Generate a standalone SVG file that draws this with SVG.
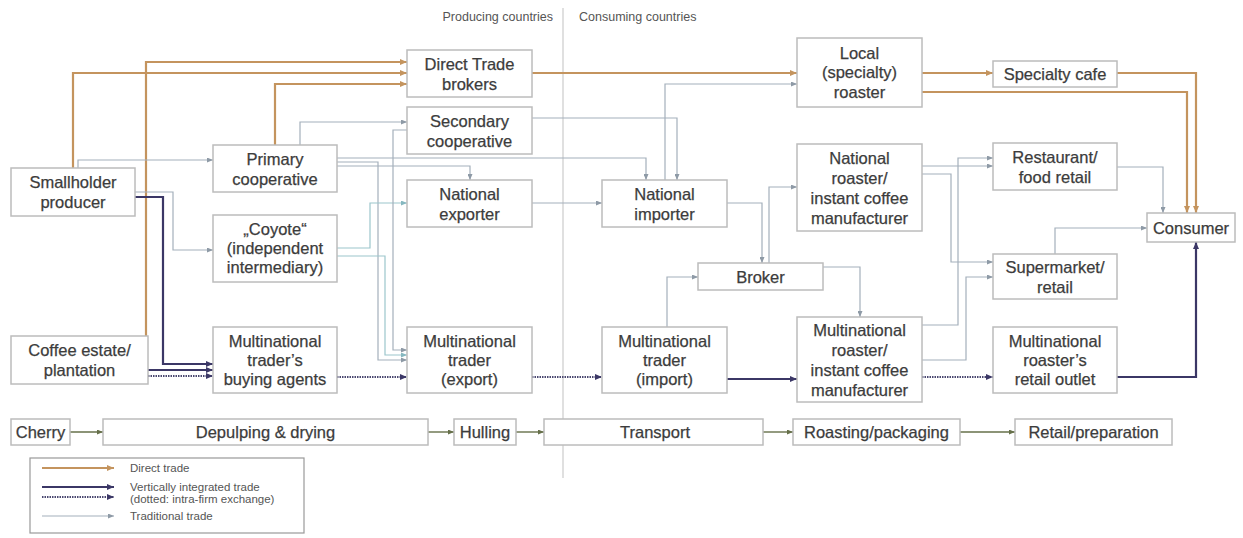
<svg xmlns="http://www.w3.org/2000/svg" width="1243" height="538" viewBox="0 0 1243 538">
<style>
.box{fill:#fff;stroke:#bcbcbc;stroke-width:1.5}
.t{font-family:"Liberation Sans",Arial,sans-serif;font-size:16.5px;fill:#3c3c3c;text-anchor:middle;stroke:#3c3c3c;stroke-width:0.25}
.hdr{font-family:"Liberation Sans",Arial,sans-serif;font-size:12.5px;fill:#555}
.lg{font-family:"Liberation Sans",Arial,sans-serif;font-size:11.5px;fill:#555}
.c{fill:none;stroke-linejoin:miter}
.dir{stroke:#c4945e;stroke-width:2.2}
.vi{stroke:#3b3766;stroke-width:2.2}
.vid{stroke:#4a4870;stroke-width:2;stroke-dasharray:1.5 1}
.tr{stroke:#a4b0bb;stroke-width:1.2}
.coy{stroke:#9cc6cc;stroke-width:1.2}
.pr{stroke:#66704a;stroke-width:1.4}
</style>
<defs>
<marker id="ad" markerUnits="userSpaceOnUse" markerWidth="7" markerHeight="6" refX="7" refY="3" orient="auto"><path d="M0,0L7,3L0,6z" fill="#c4945e"/></marker>
<marker id="av" markerUnits="userSpaceOnUse" markerWidth="7" markerHeight="6" refX="7" refY="3" orient="auto"><path d="M0,0L7,3L0,6z" fill="#3b3766"/></marker>
<marker id="at" markerUnits="userSpaceOnUse" markerWidth="6" markerHeight="5" refX="6" refY="2.5" orient="auto"><path d="M0,0L6,2.5L0,5z" fill="#8e9aa6"/></marker>
<marker id="ac" markerUnits="userSpaceOnUse" markerWidth="6" markerHeight="5" refX="6" refY="2.5" orient="auto"><path d="M0,0L6,2.5L0,5z" fill="#86b8c0"/></marker>
<marker id="ap" markerUnits="userSpaceOnUse" markerWidth="6" markerHeight="5" refX="6" refY="2.5" orient="auto"><path d="M0,0L6,2.5L0,5z" fill="#66704a"/></marker>
</defs>
<rect width="1243" height="538" fill="#fff"/>
<line x1="563" y1="8" x2="563" y2="478" stroke="#cccccc" stroke-width="1.2"/>
<text class="hdr" x="553" y="21" text-anchor="end">Producing countries</text>
<text class="hdr" x="579" y="21">Consuming countries</text>

<g id="connectors">
<path class="c dir" marker-end="url(#ad)" d="M73,168V73H407"/>
<path class="c dir" marker-end="url(#ad)" d="M146,336V62H407"/>
<path class="c dir" marker-end="url(#ad)" d="M275,145V84H407"/>
<path class="c dir" marker-end="url(#ad)" d="M532,73H797"/>
<path class="c dir" marker-end="url(#ad)" d="M922,73H993"/>
<path class="c dir" marker-end="url(#ad)" d="M1117,73H1196V213"/>
<path class="c dir" marker-end="url(#ad)" d="M922,92H1187V213"/>

<path class="c vi" marker-end="url(#av)" d="M135,197H163V364H213"/>
<path class="c vi" marker-end="url(#av)" d="M148,370H213"/>
<path class="c vid" marker-end="url(#av)" d="M148,376H213"/>
<path class="c vid" marker-end="url(#av)" d="M337,377H407"/>
<path class="c vid" marker-end="url(#av)" d="M532,377H602"/>
<path class="c vi" marker-end="url(#av)" d="M727,379H797"/>
<path class="c vid" marker-end="url(#av)" d="M922,377H993"/>
<path class="c vi" marker-end="url(#av)" d="M1117,377H1196V242"/>

<path class="c tr" marker-end="url(#at)" d="M78,168V160H213"/>
<path class="c tr" marker-end="url(#at)" d="M135,192H173V250H213"/>
<path class="c tr" marker-end="url(#at)" d="M300,145V122H407"/>
<path class="c tr" marker-end="url(#at)" d="M337,158H646V180"/>
<path class="c tr" marker-end="url(#at)" d="M337,166H470V180"/>
<path class="c tr" marker-end="url(#at)" d="M337,162H378V360H407"/>
<path class="c coy" marker-end="url(#ac)" d="M337,248H370V203H407"/>
<path class="c coy" marker-end="url(#ac)" d="M337,256H385V355H407"/>
<path class="c tr" marker-end="url(#at)" d="M407,130H393V350H407"/>
<path class="c tr" marker-end="url(#at)" d="M532,203H602"/>
<path class="c tr" marker-end="url(#at)" d="M532,118H677V180"/>
<path class="c tr" marker-end="url(#at)" d="M665,180V84H797"/>
<path class="c tr" marker-end="url(#at)" d="M727,203H762V263"/>
<path class="c tr" marker-end="url(#at)" d="M769,263V187H797"/>
<path class="c tr" marker-end="url(#at)" d="M667,327V277H698"/>
<path class="c tr" marker-end="url(#at)" d="M823,267H860V317"/>
<path class="c tr" marker-end="url(#at)" d="M922,166H993"/>
<path class="c tr" marker-end="url(#at)" d="M922,174H951V262H993"/>
<path class="c tr" marker-end="url(#at)" d="M922,325H958V158H993"/>
<path class="c tr" marker-end="url(#at)" d="M922,360H966V277H993"/>
<path class="c tr" marker-end="url(#at)" d="M1117,167H1163V213"/>
<path class="c tr" marker-end="url(#at)" d="M1055,254V228H1147"/>

<path class="c pr" marker-end="url(#ap)" d="M70,432H103"/>
<path class="c pr" marker-end="url(#ap)" d="M428,432H454"/>
<path class="c pr" marker-end="url(#ap)" d="M516,432H544"/>
<path class="c pr" marker-end="url(#ap)" d="M763,432H793"/>
<path class="c pr" marker-end="url(#ap)" d="M960,432H1015"/>
</g>

<g id="n-smallholder"><rect class="box" x="11" y="168" width="124" height="48"/><text class="t" x="73" y="188">Smallholder</text><text class="t" x="73" y="208">producer</text></g>
<g id="n-estate"><rect class="box" x="11" y="336" width="137" height="48"/><text class="t" x="79.5" y="356">Coffee estate/</text><text class="t" x="79.5" y="376">plantation</text></g>
<g id="n-primary"><rect class="box" x="213" y="145" width="124" height="47"/><text class="t" x="275" y="164.5">Primary</text><text class="t" x="275" y="184.5">cooperative</text></g>
<g id="n-coyote"><rect class="box" x="213" y="215" width="124" height="67"/><text class="t" x="275" y="235">„Coyote“</text><text class="t" x="275" y="254">(independent</text><text class="t" x="275" y="273">intermediary)</text></g>
<g id="n-buying"><rect class="box" x="213" y="327" width="124" height="66"/><text class="t" x="275" y="347">Multinational</text><text class="t" x="275" y="366">trader’s</text><text class="t" x="275" y="385">buying agents</text></g>
<g id="n-dtbrokers"><rect class="box" x="407" y="50" width="125" height="47"/><text class="t" x="469.5" y="69.5">Direct Trade</text><text class="t" x="469.5" y="89.5">brokers</text></g>
<g id="n-secondary"><rect class="box" x="407" y="107" width="125" height="47"/><text class="t" x="469.5" y="126.5">Secondary</text><text class="t" x="469.5" y="146.5">cooperative</text></g>
<g id="n-exporter"><rect class="box" x="407" y="180" width="125" height="47"/><text class="t" x="469.5" y="199.5">National</text><text class="t" x="469.5" y="219.5">exporter</text></g>
<g id="n-mntexport"><rect class="box" x="407" y="327" width="125" height="66"/><text class="t" x="469.5" y="347">Multinational</text><text class="t" x="469.5" y="366">trader</text><text class="t" x="469.5" y="385">(export)</text></g>
<g id="n-importer"><rect class="box" x="602" y="180" width="125" height="47"/><text class="t" x="664.5" y="199.5">National</text><text class="t" x="664.5" y="219.5">importer</text></g>
<g id="n-broker"><rect class="box" x="698" y="263" width="125" height="27"/><text class="t" x="760.5" y="282.5">Broker</text></g>
<g id="n-mntimport"><rect class="box" x="602" y="327" width="125" height="66"/><text class="t" x="664.5" y="347">Multinational</text><text class="t" x="664.5" y="366">trader</text><text class="t" x="664.5" y="385">(import)</text></g>
<g id="n-local"><rect class="box" x="797" y="38" width="125" height="69"/><text class="t" x="859.5" y="58.5">Local</text><text class="t" x="859.5" y="78">(specialty)</text><text class="t" x="859.5" y="97.5">roaster</text></g>
<g id="n-specialty"><rect class="box" x="993" y="61" width="124" height="26"/><text class="t" x="1055" y="80">Specialty cafe</text></g>
<g id="n-natroaster"><rect class="box" x="797" y="144" width="125" height="87"/><text class="t" x="859.5" y="163.5">National</text><text class="t" x="859.5" y="183.5">roaster/</text><text class="t" x="859.5" y="203.5">instant coffee</text><text class="t" x="859.5" y="223.5">manufacturer</text></g>
<g id="n-restaurant"><rect class="box" x="993" y="143" width="124" height="47"/><text class="t" x="1055" y="162.5">Restaurant/</text><text class="t" x="1055" y="182.5">food retail</text></g>
<g id="n-supermarket"><rect class="box" x="993" y="254" width="124" height="45"/><text class="t" x="1055" y="272.5">Supermarket/</text><text class="t" x="1055" y="292.5">retail</text></g>
<g id="n-mnroaster"><rect class="box" x="797" y="317" width="125" height="85"/><text class="t" x="859.5" y="336">Multinational</text><text class="t" x="859.5" y="356">roaster/</text><text class="t" x="859.5" y="376">instant coffee</text><text class="t" x="859.5" y="396">manufacturer</text></g>
<g id="n-retailoutlet"><rect class="box" x="993" y="327" width="124" height="66"/><text class="t" x="1055" y="347">Multinational</text><text class="t" x="1055" y="366">roaster’s</text><text class="t" x="1055" y="385">retail outlet</text></g>
<g id="n-consumer"><rect class="box" x="1147" y="213" width="88" height="29"/><text class="t" x="1191" y="233.5">Consumer</text></g>

<g id="n-cherry"><rect class="box" x="11" y="419" width="59" height="26"/><text class="t" x="40.5" y="438">Cherry</text></g>
<g id="n-depulping"><rect class="box" x="103" y="419" width="325" height="26"/><text class="t" x="265.5" y="438">Depulping &amp; drying</text></g>
<g id="n-hulling"><rect class="box" x="454" y="419" width="62" height="26"/><text class="t" x="485" y="438">Hulling</text></g>
<g id="n-transport"><rect class="box" x="544" y="419" width="219" height="26"/><text class="t" x="655" y="438">Transport</text></g>
<g id="n-roasting"><rect class="box" x="793" y="419" width="167" height="26"/><text class="t" x="876.5" y="438">Roasting/packaging</text></g>
<g id="n-retailprep"><rect class="box" x="1015" y="419" width="157" height="26"/><text class="t" x="1093.5" y="438">Retail/preparation</text></g>

<g id="legend">
<rect x="30" y="458" width="274" height="75" fill="#fff" stroke="#999" stroke-width="1.2"/>
<path class="c dir" marker-end="url(#ad)" d="M42,468H114"/>
<path class="c vi" marker-end="url(#av)" d="M42,487H114"/>
<path class="c vid" marker-end="url(#av)" d="M42,497H114"/>
<path class="c tr" marker-end="url(#at)" d="M42,516H114"/>
<text class="lg" x="130" y="472">Direct trade</text>
<text class="lg" x="130" y="490.5">Vertically integrated trade</text>
<text class="lg" x="130" y="502.5">(dotted: intra-firm exchange)</text>
<text class="lg" x="130" y="520">Traditional trade</text>
</g>
</svg>
